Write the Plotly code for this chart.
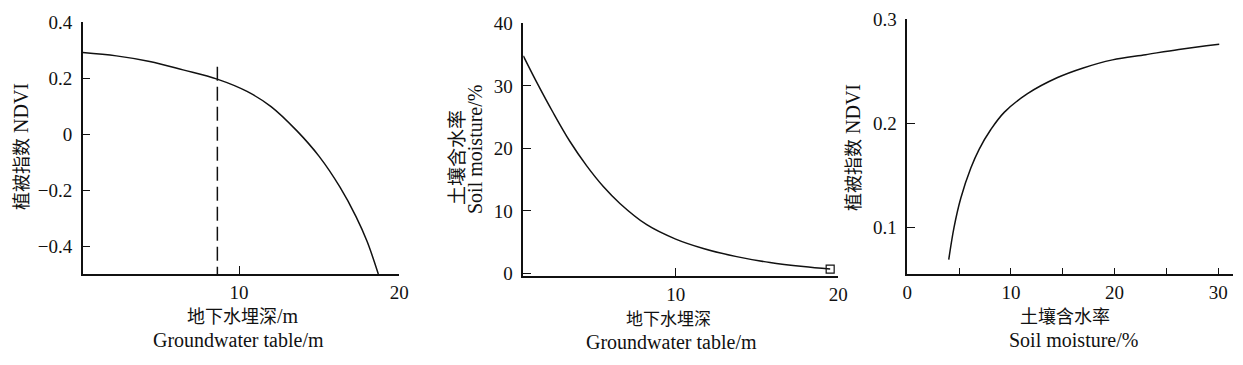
import plotly.graph_objects as go

# ---- data ----
# Panel 1: groundwater table (m) vs NDVI
gw1_depth = [0.25, 2.35, 4.43, 6.51, 8.64, 10.5, 12.0, 13.6, 15.0, 16.3, 17.3, 18.0, 18.69]
gw1_ndvi = [0.291, 0.279, 0.259, 0.229, 0.196, 0.152, 0.098, 0.012, -0.080, -0.190, -0.295, -0.385, -0.500]
threshold_depth = 8.65
threshold_ndvi_top = 0.24

# Panel 2: groundwater table (m) vs soil moisture (%)
gw2_depth = [0.63, 1.45, 2.47, 3.5, 4.53, 5.55, 6.57, 8.22, 10.0, 11.7, 13.75, 15.8, 17.85, 19.5]
gw2_moist = [34.8, 30.6, 25.7, 21.1, 17.2, 13.9, 11.2, 7.8, 5.5, 4.0, 2.7, 1.75, 1.1, 0.7]

# Panel 3: soil moisture (%) vs NDVI
sm3_moist = [4.0, 4.51, 5.16, 6.13, 6.93, 8.06, 9.35, 11.6, 14.5, 16.9, 19.8, 23.0, 26.2, 30.1]
sm3_ndvi = [0.069, 0.100, 0.128, 0.157, 0.175, 0.194, 0.2105, 0.2285, 0.244, 0.253, 0.261, 0.266, 0.271, 0.276]

# tick labels
p1_xticks = [10, 20]
p1_yticks = [-0.4, -0.2, 0, 0.2, 0.4]
p1_yticktext = ["\u22120.4", "\u22120.2", "0", "0.2", "0.4"]
p2_xticks = [10, 20]
p2_yticks = [0, 10, 20, 30, 40]
p3_xticks = [0, 5, 10, 15, 20, 25, 30]
p3_xticktext = ["0", "", "10", "", "20", "", "30"]
p3_yticks = [0.1, 0.2, 0.3]

# page body has an 8px default margin -> size the figure to fit the 1243x365 window
OFF = 8
W, H = 1243 - 2 * OFF, 365 - 2 * OFF
def px(x):
    return (x - OFF) / W
def py(y):
    return 1 - (y - OFF) / H

SERIF = "Liberation Serif, Times New Roman, serif"
CJK = "Noto Sans CJK SC"
BLACK = "#111111"

fig = go.Figure()
fig.add_trace(go.Scatter(x=gw1_depth, y=gw1_ndvi, mode="lines", line=dict(color=BLACK, width=1.5, shape="spline"),
                         xaxis="x", yaxis="y", showlegend=False))
fig.add_trace(go.Scatter(x=[threshold_depth, threshold_depth], y=[threshold_ndvi_top, -0.5], mode="lines",
                         line=dict(color=BLACK, width=1.5, dash="14px,6px"), xaxis="x", yaxis="y", showlegend=False))
fig.add_trace(go.Scatter(x=gw2_depth, y=gw2_moist, mode="lines", line=dict(color=BLACK, width=1.5, shape="spline"),
                         xaxis="x2", yaxis="y2", showlegend=False))
fig.add_trace(go.Scatter(x=gw2_depth[-1:], y=gw2_moist[-1:], mode="markers",
                         marker=dict(symbol="square-open", size=8, color=BLACK, line=dict(width=1.2)),
                         xaxis="x2", yaxis="y2", showlegend=False))
fig.add_trace(go.Scatter(x=sm3_moist, y=sm3_ndvi, mode="lines", line=dict(color=BLACK, width=1.5, shape="spline"),
                         xaxis="x3", yaxis="y3", showlegend=False))

axcommon = dict(showline=True, linecolor=BLACK, linewidth=1.5, ticks="inside", ticklen=8, tickwidth=1.3,
                tickcolor=BLACK, showgrid=False, zeroline=False, mirror=False, automargin=False,
                tickfont=dict(family=SERIF, size=19, color=BLACK))
xax = dict(axcommon, ticklabelstandoff=0)
yax = dict(axcommon, ticklabelstandoff=5)

fig.update_layout(
    width=W, height=H, margin=dict(l=0, r=0, t=0, b=0, pad=0, autoexpand=False),
    paper_bgcolor="white", plot_bgcolor="white",
    xaxis=dict(xax, domain=[px(82.7), px(399.3)], range=[0.25, 20], tickvals=p1_xticks, anchor="y"),
    yaxis=dict(yax, domain=[py(274), py(22)], range=[-0.5, 0.4], tickvals=p1_yticks,
               ticktext=p1_yticktext, anchor="x"),
    xaxis2=dict(xax, domain=[px(523.3), px(838.3)], range=[0.63, 20], tickvals=p2_xticks, anchor="y2"),
    yaxis2=dict(yax, domain=[py(276), py(23.3)], range=[-0.4, 40], tickvals=p2_yticks, anchor="x2"),
    xaxis3=dict(xax, domain=[px(907.3), px(1232.7)], range=[0, 31.4], tickvals=p3_xticks,
                ticktext=p3_xticktext, anchor="y3", ticklen=6),
    yaxis3=dict(yax, domain=[py(274), py(19.3)], range=[0.0551, 0.3], tickvals=p3_yticks, anchor="x3"),
)

def ann(text, x, y, font, size, angle=0):
    fig.add_annotation(text=text, x=px(x), y=py(y), xref="paper", yref="paper", showarrow=False,
                       xanchor="center", yanchor="middle", textangle=angle,
                       font=dict(family=font, size=size, color=BLACK))

# x-axis titles
ann("地下水埋深<span style='font-family:Liberation Serif;font-size:20px'>/m</span>", 243, 315, CJK, 18)
ann("Groundwater table/m", 238, 340, SERIF, 20)
ann("地下水埋深", 668, 317.5, CJK, 17)
ann("Groundwater table/m", 671, 341.5, SERIF, 20)
ann("土壤含水率", 1065, 315, CJK, 18)
ann("Soil moisture/%", 1073, 340, SERIF, 20)

# y-axis titles
ann("植被指数<span style='font-family:Liberation Serif;font-size:20px'> NDVI</span>", 20, 147, CJK, 18, -90)
ann("土壤含水率", 455, 158, CJK, 19, -90)
ann("Soil moisture/%", 475, 150, SERIF, 20, -90)
ann("植被指数<span style='font-family:Liberation Serif;font-size:20px'> NDVI</span>", 852, 147, CJK, 18, -90)

fig.write_html("out.html")
